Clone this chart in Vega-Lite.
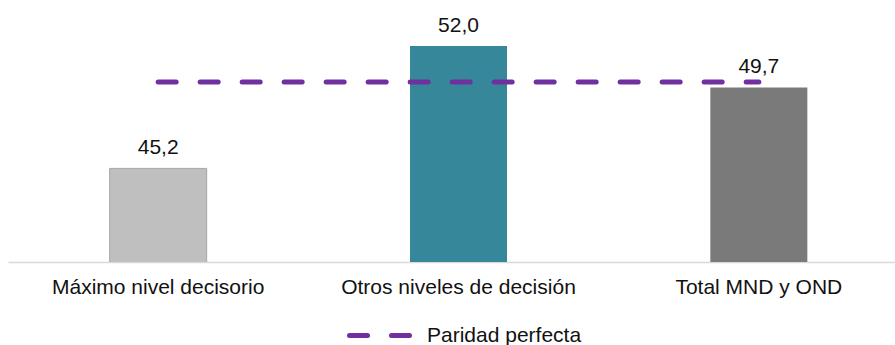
{
  "$schema": "https://vega.github.io/schema/vega-lite/v6.json",
  "autosize": "none",
  "width": 901,
  "height": 252,
  "padding": {"left": 8, "top": 10, "right": 0, "bottom": 83},
  "config": {
    "view": {"stroke": null},
    "font": "Liberation Sans",
    "locale": {"number": {"decimal": ",", "thousands": ".", "grouping": [3], "currency": ["", " €"]}}
  },
  "data": {
    "values": [
      {"nivel": "Máximo nivel decisorio", "valor": 45.2},
      {"nivel": "Otros niveles de decisión", "valor": 52.0},
      {"nivel": "Total MND y OND", "valor": 49.7}
    ]
  },
  "encoding": {
    "x": {
      "field": "nivel",
      "type": "nominal",
      "sort": null,
      "scale": {"paddingInner": 0.677, "paddingOuter": 0.3385},
      "axis": {
        "title": null,
        "labelAngle": 0,
        "labelFontSize": 21,
        "labelColor": "#111111",
        "labelPadding": 14,
        "labelLimit": 300,
        "ticks": false,
        "domainColor": "#D9D9D9",
        "domainWidth": 1.5
      }
    }
  },
  "layer": [
    {
      "mark": {"type": "bar", "strokeWidth": 1, "clip": true},
      "encoding": {
        "y": {
          "field": "valor",
          "type": "quantitative",
          "scale": {"domain": [40, 54], "zero": false, "nice": false},
          "axis": null
        },
        "fill": {
          "field": "nivel",
          "type": "nominal",
          "sort": null,
          "scale": {"range": ["#BFBFBF", "#36879A", "#7A7A7A"]},
          "legend": null
        },
        "stroke": {
          "condition": {"test": "datum.nivel === 'Máximo nivel decisorio'", "value": "#A6A6A6"},
          "value": null
        }
      }
    },
    {
      "mark": {
        "type": "line",
        "strokeWidth": 5,
        "strokeDash": [18, 24],
        "strokeCap": "round"
      },
      "encoding": {
        "y": {"datum": 50, "type": "quantitative"},
        "stroke": {
          "datum": "Paridad perfecta",
          "type": "nominal",
          "scale": {"range": ["#7030A0"]},
          "legend": {
            "title": null,
            "orient": "none",
            "legendX": 339,
            "legendY": 293,
            "padding": 0,
            "symbolType": "stroke",
            "symbolSize": 3600,
            "symbolStrokeWidth": 5,
            "symbolDash": [18, 24],
            "labelFontSize": 21,
            "labelColor": "#111111",
            "labelOffset": 15,
            "encode": {"symbols": {"update": {"strokeCap": {"value": "round"}}}}
          }
        }
      }
    },
    {
      "mark": {
        "type": "text",
        "baseline": "alphabetic",
        "dy": -14,
        "fontSize": 21,
        "color": "#111111"
      },
      "encoding": {
        "y": {"field": "valor", "type": "quantitative"},
        "text": {"field": "valor", "type": "quantitative", "format": ".1f"}
      }
    }
  ]
}
